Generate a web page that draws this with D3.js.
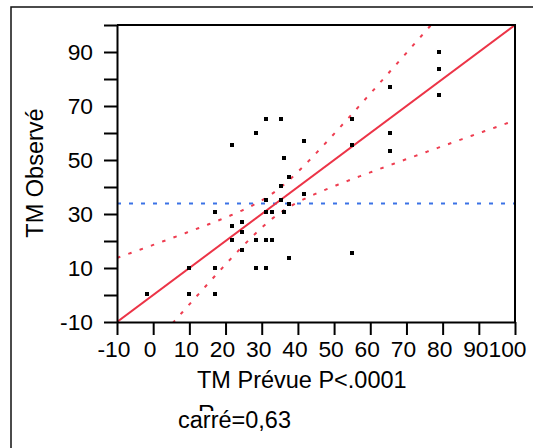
<!DOCTYPE html>
<html>
<head>
<meta charset="utf-8">
<script src="https://cdn.jsdelivr.net/npm/d3@7"></script>
<style>
  html, body { margin: 0; padding: 0; background: #fff; }
  svg { display: block; font-family: "Liberation Sans", Arial, sans-serif; }
</style>
</head>
<body>
<svg id="chart" width="533" height="448"></svg>
<script>
// Observed vs predicted TM, one entry per observation
const predicted = [-1.6, 9.8, 9.8, 17, 17, 17, 21.9, 21.9, 21.9, 24.6, 24.6, 24.6,
  28.5, 28.5, 28.5, 31.3, 31.3, 31.3, 31.3, 31.3, 32.9, 32.9, 35.2, 35.2, 35.2,
  36.2, 36.2, 37.4, 37.4, 37.4, 41.7, 41.7, 55, 55, 55, 65.4, 65.4, 65.4, 79.1, 79.1, 79.1];
const observed = [0.5, 10, 0.5, 30.7, 10, 0.5, 55.5, 25.5, 20.3, 27.1, 23.4, 16.8,
  60.1, 20.3, 10, 65.2, 35.1, 30.7, 20.3, 10, 30.7, 20.3, 65.2, 40.3, 35.1,
  50.6, 30.7, 43.8, 33.6, 13.7, 57.1, 37.3, 65.2, 55.5, 15.4, 76.9, 60.1, 53.4, 90.1, 83.6, 74.1];

// Axis ticks
const xTickValues = [-10, 0, 10, 20, 30, 40, 50, 60, 70, 80, 90, 100];
const yTickValues = [-10, 0, 10, 20, 30, 40, 50, 60, 70, 80, 90, 100];
const yTickLabels = [-10, 10, 30, 50, 70, 90];

// Fit (observed = predicted), mean of observed, and confidence-curve parameters
const fitSlope = 1;
const fitIntercept = 0;
const meanObserved = 33.9;
const bandCenter = 33.9;   // x where the curves are closest
const bandNeck = 4.6;      // half-width at the centre
const bandSpread = 0.53;   // growth of the half-width away from the centre

const xTitle = "TM Prévue P<.0001";
const rsqLabel = "carré=0,63";

(function draw() {
  const svg = d3.select("#chart");
  const W = 533, H = 448;
  const pL = 117, pR = 515, pT = 25, pB = 322;

  svg.append("rect").attr("width", W).attr("height", H).attr("fill", "#fff");

  // outer frame
  svg.append("path")
    .attr("d", `M11,${H} L11,7 L${W},7`)
    .attr("fill", "none").attr("stroke", "#111").attr("stroke-width", 1.5);

  const x = d3.scaleLinear().domain([-10, 100]).range([pL, pR]);
  const y = d3.scaleLinear().domain([-10, 100]).range([pB, pT]);

  const defs = svg.append("defs");
  defs.append("clipPath").attr("id", "plotClip")
    .append("rect").attr("x", pL).attr("y", pT)
    .attr("width", pR - pL).attr("height", pB - pT);
  defs.append("clipPath").attr("id", "rClip")
    .append("rect").attr("x", 190).attr("y", 400).attr("width", 30).attr("height", 11);

  const plot = svg.append("g").attr("clip-path", "url(#plotClip)");

  // mean line
  plot.append("line")
    .attr("x1", x(-10)).attr("x2", x(100))
    .attr("y1", y(meanObserved)).attr("y2", y(meanObserved))
    .attr("stroke", "#3b72e6").attr("stroke-width", 2)
    .attr("stroke-dasharray", "4,8");

  // confidence curves
  const halfWidth = v => Math.sqrt(bandNeck * bandNeck + Math.pow(bandSpread * (v - bandCenter), 2));
  const fitAt = v => fitIntercept + fitSlope * v;
  const xs = d3.range(-10, 100.01, 0.5);
  const curve = d3.line().x(d => x(d[0])).y(d => y(d[1])).curve(d3.curveMonotoneX);
  [1, -1].forEach(sign => {
    plot.append("path")
      .datum(xs.map(v => [v, fitAt(v) + sign * halfWidth(v)]))
      .attr("d", curve)
      .attr("fill", "none").attr("stroke", "#ee3d50").attr("stroke-width", 2)
      .attr("stroke-dasharray", "3.5,8.5");
  });

  // fit line
  plot.append("line")
    .attr("x1", x(-10)).attr("y1", y(fitAt(-10)))
    .attr("x2", x(100)).attr("y2", y(fitAt(100)))
    .attr("stroke", "#ec3447").attr("stroke-width", 2);

  // points
  const pts = predicted.map((p, i) => [p, observed[i]]);
  plot.selectAll("rect.pt").data(pts).enter().append("rect")
    .attr("class", "pt")
    .attr("x", d => Math.round(x(d[0])) - 2).attr("y", d => Math.round(y(d[1])) - 2)
    .attr("width", 4).attr("height", 4).attr("fill", "#000");

  // plot border (top and right)
  svg.append("path")
    .attr("d", `M${pL},${pT} L${pR},${pT} L${pR},${pB}`)
    .attr("fill", "none").attr("stroke", "#000").attr("stroke-width", 2);

  // axes
  const yAxis = d3.axisLeft(y).tickValues(yTickValues).tickSize(13).tickSizeOuter(0).tickPadding(11)
    .tickFormat(d => yTickLabels.includes(d) ? String(d) : "");
  const gy = svg.append("g").attr("transform", `translate(${pL},0)`).call(yAxis);

  const xAxis = d3.axisBottom(x).tickValues(xTickValues).tickSize(13).tickSizeOuter(0).tickPadding(6)
    .tickFormat(d => String(d));
  const gx = svg.append("g").attr("transform", `translate(0,${pB})`).call(xAxis);

  [gx, gy].forEach(g => {
    g.select(".domain").attr("stroke", "#000").attr("stroke-width", 2);
    g.selectAll(".tick line").attr("stroke", "#000").attr("stroke-width", 2);
    g.selectAll(".tick text").attr("fill", "#000")
      .style("font-size", "22.8px").style("font-family", "'Liberation Sans', Arial, sans-serif");
  });
  // x labels sit slightly left of their ticks; the last one is pulled in to stay inside the frame
  gx.selectAll(".tick text").attr("dx", d => d === 100 ? -8 : -3.5);

  // axis titles
  svg.append("text")
    .attr("transform", "translate(43,173) rotate(-90)")
    .attr("text-anchor", "middle")
    .style("font-size", "23.5px").attr("fill", "#000")
    .text("TM Observé");

  svg.append("text")
    .attr("x", 197).attr("y", 388)
    .style("font-size", "23.5px").attr("fill", "#000")
    .text(xTitle);

  svg.append("text")
    .attr("x", 198).attr("y", 422)
    .attr("clip-path", "url(#rClip)")
    .style("font-size", "23.5px").attr("fill", "#000")
    .text("R");

  svg.append("text")
    .attr("x", 178).attr("y", 428)
    .style("font-size", "23.5px").attr("fill", "#000")
    .text(rsqLabel);
})();
</script>
</body>
</html>
